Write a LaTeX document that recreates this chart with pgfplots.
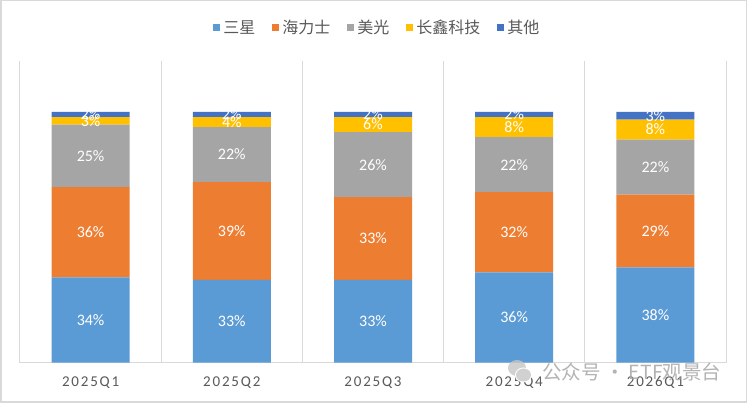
\documentclass[border=0pt]{standalone}
\usepackage{pgfplots}
\pgfplotsset{compat=1.18}
\usepackage{fontspec}
\setmainfont{Carlito}
\newfontfamily\cjk{Noto Sans CJK SC}
\newfontfamily\tickfont[LetterSpace=12]{Carlito}
\definecolor{cSam}{HTML}{5B9BD5}
\definecolor{cHyn}{HTML}{ED7D31}
\definecolor{cMic}{HTML}{A5A5A5}
\definecolor{cCxm}{HTML}{FFC000}
\definecolor{cOth}{HTML}{4472C4}
\definecolor{cGrid}{HTML}{D9D9D9}
\definecolor{cText}{HTML}{595959}
\begin{document}
\begin{tikzpicture}[x=1pt,y=1pt]
\useasboundingbox (0,0) rectangle (747,403);
\fill[white] (0,0) rectangle (747,403);
\draw[cGrid, line width=1.5pt] (0.75,0.75) rectangle (746.25,402.25);
\begin{axis}[
  at={(20pt,40.3pt)}, anchor=south west,
  scale only axis, width=706pt, height=301.7pt,
  xmin=-0.5, xmax=4.5, ymin=0, ymax=120.34,
  ybar stacked, bar width=78pt,
  axis y line=none, ytick=\empty,
  axis x line*=bottom,
  x axis line style={-, draw=cGrid, line width=1pt},
  xtick={0,1,2,3,4},
  xticklabels={2025Q1,2025Q2,2025Q3,2025Q4,2026Q1},
  major tick length=0pt, minor tick length=0pt,
  minor xtick={-0.5,0.5,1.5,2.5,3.5,4.5},
  xminorgrids=true,
  minor grid style={draw=cGrid, line width=1pt},
  xticklabel style={font=\tickfont\fontsize{15}{15}\selectfont, text=cText, anchor=center, yshift=-19.5pt},
  every axis plot post/.append style={draw=none,
    legend image code/.code={\fill[##1] (0pt,-3.5pt) rectangle (7pt,3.5pt);}},
  visualization depends on={rawy \as \rawy},
  /pgf/number format/assume math mode=true,
  nodes near coords={\pgfmathprintnumber{\rawy}\%},
  every node near coord/.append style={font=\fontsize{16}{16}\selectfont, text=white, anchor=center},
  legend columns=5,
  legend style={draw=none, fill=none, at={(0.507,1.111)}, anchor=center,
    font=\cjk\fontsize{16}{16}\selectfont, text=cText,
    /tikz/every even column/.append style={column sep=14pt},
    nodes={inner xsep=3pt, inner ysep=0pt}},
]
\addplot[fill=cSam] coordinates {(0,34) (1,33) (2,33) (3,36) (4,38)};
\addplot[fill=cHyn] coordinates {(0,36) (1,39) (2,33) (3,32) (4,29)};
\addplot[fill=cMic] coordinates {(0,25) (1,22) (2,26) (3,22) (4,22)};
\addplot[fill=cCxm] coordinates {(0,3) (1,4) (2,6) (3,8) (4,8)};
\addplot[fill=cOth] coordinates {(0,2) (1,2) (2,2) (3,2) (4,3)};
\legend{三星,海力士,美光,长鑫科技,其他}
\end{axis}
\fill[gray!45, opacity=0.8] (517,35) ellipse (9 and 8);
\fill[white] (523.5,28) ellipse (8.5 and 7.5);
\fill[gray!45, opacity=0.8] (523.5,28) ellipse (7.5 and 6.5);
\node[anchor=west, inner sep=0pt, text=gray!70, opacity=0.85, font=\cjk\fontsize{19.5}{20}\selectfont] at (542,31) {公众号 · ETF观景台};
\end{tikzpicture}
\end{document}
